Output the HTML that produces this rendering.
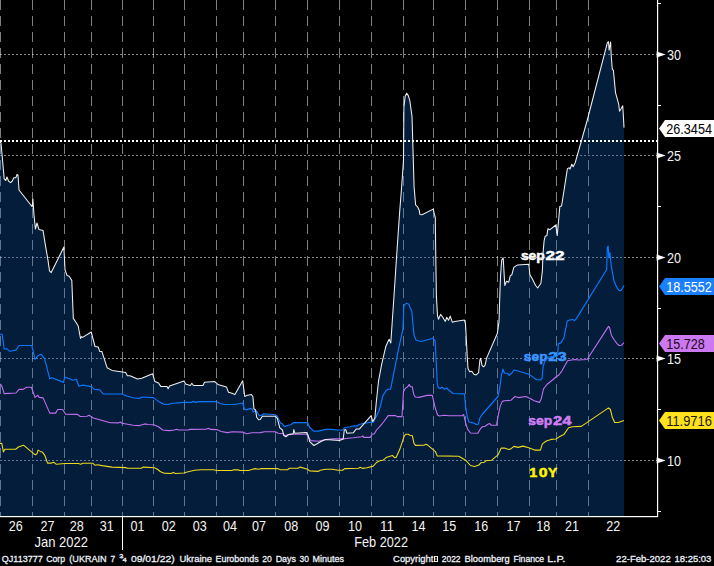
<!DOCTYPE html><html><head><meta charset="utf-8"><title>chart</title>
<style>html,body{margin:0;padding:0;background:#000;overflow:hidden}svg{display:block}text{font-family:"Liberation Sans",sans-serif}</style></head><body>
<svg width="714" height="566" viewBox="0 0 714 566">
<rect width="714" height="566" fill="#000"/>
<g stroke="#ffffff" stroke-opacity="0.5" stroke-width="1" shape-rendering="crispEdges">
<line x1="0.5" y1="0" x2="0.5" y2="516" stroke-dasharray="10 6"/>
<line x1="32.5" y1="0" x2="32.5" y2="516" stroke-dasharray="10 6"/>
<line x1="64.5" y1="0" x2="64.5" y2="516" stroke-dasharray="10 6"/>
<line x1="91.5" y1="0" x2="91.5" y2="516" stroke-dasharray="10 6"/>
<line x1="122.5" y1="0" x2="122.5" y2="516" stroke-dasharray="10 6"/>
<line x1="153.5" y1="0" x2="153.5" y2="516" stroke-dasharray="10 6"/>
<line x1="184.5" y1="0" x2="184.5" y2="516" stroke-dasharray="10 6"/>
<line x1="216.5" y1="0" x2="216.5" y2="516" stroke-dasharray="10 6"/>
<line x1="243.5" y1="0" x2="243.5" y2="516" stroke-dasharray="10 6"/>
<line x1="275.5" y1="0" x2="275.5" y2="516" stroke-dasharray="10 6"/>
<line x1="307.5" y1="0" x2="307.5" y2="516" stroke-dasharray="10 6"/>
<line x1="339.5" y1="0" x2="339.5" y2="516" stroke-dasharray="10 6"/>
<line x1="371.5" y1="0" x2="371.5" y2="516" stroke-dasharray="10 6"/>
<line x1="403.5" y1="0" x2="403.5" y2="516" stroke-dasharray="10 6"/>
<line x1="433.5" y1="0" x2="433.5" y2="516" stroke-dasharray="10 6"/>
<line x1="465.5" y1="0" x2="465.5" y2="516" stroke-dasharray="10 6"/>
<line x1="497.5" y1="0" x2="497.5" y2="516" stroke-dasharray="10 6"/>
<line x1="529.5" y1="0" x2="529.5" y2="516" stroke-dasharray="10 6"/>
<line x1="556.5" y1="0" x2="556.5" y2="516" stroke-dasharray="10 6"/>
<line x1="588.5" y1="0" x2="588.5" y2="516" stroke-dasharray="10 6"/>
</g>
<g stroke="#ffffff" stroke-opacity="0.52" stroke-width="1" shape-rendering="crispEdges">
<line x1="0" y1="54.5" x2="657" y2="54.5" stroke-dasharray="2 2"/>
<line x1="0" y1="155.5" x2="657" y2="155.5" stroke-dasharray="2 2"/>
<line x1="0" y1="257.5" x2="657" y2="257.5" stroke-dasharray="2 2"/>
<line x1="0" y1="358.5" x2="657" y2="358.5" stroke-dasharray="2 2"/>
<line x1="0" y1="460.5" x2="657" y2="460.5" stroke-dasharray="2 2"/>
</g>
<g opacity="0.3">
<polygon fill="#0d61c1" points="0,516 0,141.5 1,143 4.2,178.8 5.7,180.5 7,177 8.5,181 10.6,182.6 12.3,181 13.8,177.7 15.9,177.7 17,174.5 18,175 19,190 32.2,206.8 32.9,199 34,215 35.4,229 37,223 39,229.6 43,230.4 45.8,247.6 48,260.3 49.5,270.9 51.2,272.6 63.9,247.1 65,269.8 67.1,275.6 69.2,276.2 71.8,280.4 73.3,318.4 75.6,321.8 78.2,326 80.5,338.5 81.6,336.6 82.7,337.4 91.2,332 95,346.5 98.2,347 99.7,351.4 101.8,351.4 107.1,367.7 112,370.4 122.6,372 125.7,372.6 127.4,375.7 130,375.7 137.4,378.9 141.7,378.3 152.6,373.7 154.8,381.5 158.6,383 160.7,386.4 167,386.6 168.1,388.8 169.6,385.9 184,380.9 185.6,384.1 190.3,385.5 191.8,383.3 193.5,385.5 203,385.5 204.5,382.3 214.7,381.6 217.9,384.4 226.4,386.9 228.5,392.2 232.7,393.5 234.9,394.6 242.7,380.8 244.8,396.5 246.5,395.6 251.4,394.6 252.9,396.5 253.9,408.8 255.6,409.9 256.7,417.3 258.6,419.8 260.3,419.4 262.4,416.2 275.2,416.2 277.3,418.3 279.8,427.9 282.4,430 283.9,435.6 286,436.8 288.3,434.5 293.2,433.8 293.8,429.6 294.8,433.2 306.5,432.6 308.2,435.3 309.7,441.7 313.9,445.5 317.1,443.8 321.4,441.2 325.6,439.5 339.4,440.6 343.2,438.9 344.3,430 345.8,429.6 346.8,433.2 353.2,432.8 356.4,428.9 359.5,428.9 371.2,415.6 372.7,421.5 374.8,418.3 376.3,402 378.5,381.2 381.7,364.2 385.9,346.2 389.1,339.2 390.8,343 391.8,328.2 394.4,290 396.5,257.9 399.7,211.2 401.4,190 403.5,160.6 403.9,107.6 405.2,95.9 406.7,93.2 408.4,95.9 409.9,101.2 410.9,108.6 412,116.1 413,150 414.1,187 415.6,204.8 417.7,207 419.2,210.2 419.9,214.4 422,214.8 433.2,209.1 434.7,215.5 435.3,217.6 435.8,257.9 436.4,296.4 437.5,315.5 438.5,319.3 440.6,314.4 442.8,317.2 445.3,321.4 446.8,317.2 448.5,320.3 450.2,316.1 452.3,322.2 454.9,321.4 464.4,320.1 465.5,323.9 467.2,355.8 468,368.5 469.7,371.7 471.8,371.2 473.9,374.2 476.1,374.9 478.6,372.7 479.9,360 480.7,358.3 482,365.3 483.5,366.8 485,365.3 486.7,357.9 497.3,333.5 499,321.8 500,290 500.6,274.8 501.7,260 503.2,257.9 504.8,285.5 506.5,281.2 508.7,282.3 510.2,275.9 511.8,274.8 513.8,267.4 517.6,264.9 528.8,264.2 529.9,274.8 532.4,279.1 535.6,285.5 537.7,288 540.9,283.3 542.4,270.6 543,253.6 544.1,240.9 545.2,236.2 546.9,235.6 547.9,228.8 550,229.7 555.8,225 557.2,235.6 558.5,221.8 559.8,206.6 561.6,206 567.4,168.6 569.2,167.7 570,169.1 571.8,164.2 573.2,166.8 575.3,162.4 587.3,120 607.4,42.7 608.5,41.7 609.1,50.2 610.6,42.1 611.2,55.5 612.3,69.2 613.4,70.3 615.5,92.6 618.7,104.2 619.5,111.2 621.2,108.5 622.7,105.7 623.3,114.9 624,127.6 624,516"/>
<polygon fill="#0d61c1" points="0,516 0,334.2 2.1,334.2 4.2,349 6.8,348.7 9.5,351.2 15.9,350.1 19.1,345.5 31.8,345.5 35,359.3 38.2,355.5 41.4,354.4 44.5,358.6 49.8,378.8 52,377.7 63.6,382.4 64.7,377 73.2,380.3 76.4,379.2 78.9,386.2 82.7,385.1 91.2,386.6 94.4,389.4 99.7,389.8 103.3,394 122,394 127.3,396.2 134.2,398 139.5,398.4 142.7,397 153.3,397.6 158.5,401.4 160.6,402.4 163.2,404.1 168,404.5 171.2,403.5 183.9,402.4 191.4,402.4 193,401.4 195.6,402.4 198.8,401.6 215.8,401.6 220,403.5 224.2,404.5 234.9,404.5 242.7,403 244.4,409.2 246.5,409.9 250.8,408.4 252.2,409.2 253.3,412 255,410.9 256.7,411.3 259.2,415.6 261.4,415.2 263.5,413.7 275.2,414.7 277.3,416.2 280.5,423 282.1,423.6 284.7,426.6 287.9,425.3 290.6,424.7 293.8,422.6 307.6,422.6 309.7,427.5 313.9,431.1 318.2,431.1 325.6,429.4 332,429.4 337.3,430 342.6,430 344.7,427.5 350,426.8 354.2,425.8 357.4,425.8 359.5,424.3 364.8,423.2 371.2,422.2 373.3,422.2 378.6,412 380.8,404.5 382.7,396.1 385.9,390.8 388,389.3 390.6,389.1 397.6,353.6 402.9,329.2 403.9,305.9 406.5,303.2 408.8,304.2 410.3,308 411.8,311.2 413.1,326.1 414.1,335.6 416.2,340.3 420.9,341.5 433.2,338.2 435.1,340.9 436.2,362.1 437.2,383.3 438.3,387.6 440,388.6 442.1,387.2 444.7,389.3 446.8,388 449.5,390.8 453.2,393.5 464.4,393.9 465.8,408.2 467.3,416.7 469,422 473.6,423 476.2,424.5 478.3,424.1 480,417.7 482.1,414.5 498,396.5 499.8,387.6 501.5,374.9 503,369.1 504.4,373.2 507.6,373.2 509.3,375.3 511.8,373.2 514,370 518.2,371 528.8,374.2 532,376.4 536.2,379.5 540.5,380 542,378.5 543.2,366 545,360.8 548,357.2 552,356.6 557.6,356 558.3,343.9 560.8,342.9 563.8,338.1 567.3,321 569.6,320 572.5,319.6 574.5,320.6 576.4,318.6 606.7,269.5 607.3,247.3 608.2,246.2 608.8,257.9 609.9,252.6 611.3,266.4 614.1,281.2 617.3,288.6 619.8,290.8 621.5,290.1 624,285.5 624,516"/>
</g>
<line x1="0" y1="141" x2="657" y2="141" stroke="#fff" stroke-width="2" stroke-dasharray="2 2" shape-rendering="crispEdges"/>
<g font-size="13.2" font-weight="bold" fill="#ffffff" stroke="#ffffff" stroke-width="0.5" stroke-linejoin="round">
<text x="520.9" y="259.8" textLength="23.9" lengthAdjust="spacingAndGlyphs">sep</text>
<text x="545.5" y="259.8" textLength="19.1" lengthAdjust="spacingAndGlyphs">22</text>
</g>
<g font-size="13.2" font-weight="bold" fill="#3c96ff" stroke="#3c96ff" stroke-width="0.5" stroke-linejoin="round">
<text x="523.8" y="360.8" textLength="23.8" lengthAdjust="spacingAndGlyphs">sep</text>
<text x="548.3" y="360.8" textLength="18.4" lengthAdjust="spacingAndGlyphs">23</text>
</g>
<g font-size="13.2" font-weight="bold" fill="#d27df5" stroke="#d27df5" stroke-width="0.5" stroke-linejoin="round">
<text x="528.2" y="424.9" textLength="24.0" lengthAdjust="spacingAndGlyphs">sep</text>
<text x="552.9" y="424.9" textLength="18.5" lengthAdjust="spacingAndGlyphs">24</text>
</g>
<g font-size="13.2" font-weight="bold" fill="#fff400" stroke="#fff400" stroke-width="0.5" stroke-linejoin="round">
<text x="529.2" y="476.9" textLength="8" lengthAdjust="spacingAndGlyphs">1</text>
<text x="538.7" y="476.9" textLength="8.8" lengthAdjust="spacingAndGlyphs">0</text>
<text x="548" y="476.9" textLength="9.2" lengthAdjust="spacingAndGlyphs">Y</text>
</g>
<polyline fill="none" stroke="#ecd722" stroke-width="1.1" stroke-linejoin="round" points="0,443.4 1.8,443.4 3.4,451.9 4.9,449.2 15.7,449.2 18.4,447 23.5,445.2 33.6,453.7 35.4,454.8 37,453.7 38.1,450.1 40.3,451.4 42.6,452.3 44.8,455.3 47.5,463.1 51.5,463.1 53.8,462.2 56,464.2 65,463.5 78.4,463.5 80.7,464.2 82.9,463.3 93,463.3 95.2,465.3 97.5,464.7 102,465.6 112,467.1 125.5,467.6 127.7,468.2 141.2,468.2 143.4,467.1 154.4,467.7 157.4,469.2 160.6,471.8 163.8,473.1 171.2,473.5 173.3,472.4 175.5,473.5 183.9,473 187.1,472 194.5,470.3 200.9,469.7 213.6,469.7 216.8,470.5 231.7,470.5 233.8,469.7 238,469.9 240.2,470.5 248.6,470.5 251.8,469.5 255,468.6 258.2,469.2 261.4,468.6 277.3,468.6 280.5,469.7 287.4,469.7 289.5,468.2 298,468.2 300.2,467.1 307.6,469.2 309.7,470.9 318.2,471.4 320.3,470.3 325.6,469.2 332,469.2 338.3,470.3 342.6,470.3 344.7,468.6 358.5,468.2 360.2,467.3 362.7,468.4 367,467.8 373.3,466.1 376.5,462.5 379.7,460.8 382.9,460.3 386.1,457.6 389.2,456.5 392.4,455.5 394.6,457.6 396.2,457.2 399.9,449.1 404.1,436.4 405.6,434.2 408.3,434.2 409.8,435.3 412.4,435.8 414,443.4 415.5,445.4 423.8,445.3 425.9,444.2 428,445.3 435.5,451.7 437.2,455.9 458.8,456.3 465.6,460.2 470.5,465.5 474.7,466.5 478.9,465 481.1,462.7 484.2,462.3 485.9,460.8 491.7,460.2 498,454.9 501.2,448.1 504.4,448.1 508.6,449.5 510.8,448.9 513.9,446.4 518.2,447.4 523,446.1 528.8,447.8 534.6,450.1 540.4,450.1 542.4,443.9 546.3,441 551.1,439.4 556,439 558.9,437.1 563.8,434.6 568.6,427.8 572.5,426.8 581.3,426.4 608.5,407.9 610.4,409.5 612.4,417.6 614.7,422.5 618.2,422.5 624,420.6"/>
<polyline fill="none" stroke="#c070f0" stroke-width="1.1" stroke-linejoin="round" points="0,384 1.7,385.6 4.2,393.6 15.9,393 19.1,389.4 23.3,389.4 26.5,387.3 31.4,387.3 35,397.4 37.8,395.3 39.2,397.4 43.1,397.9 49.8,413.1 55.6,413.1 57.7,409.5 62.6,409.5 65.7,414.2 77.4,414.4 80.2,416.5 87,416.3 89.1,415.3 93.3,418 110.3,422.7 118.8,422.9 120.3,422 122,423.3 133.2,425.2 139.5,425.6 144.8,423.9 148,424.5 153.8,424.7 158.5,426.8 162.7,430 169.1,430.6 174.4,430 176.5,429.2 178.6,430 188.2,430 190.3,429.4 206.2,429.2 208.3,428.3 210.5,429.4 216.8,429.6 221.1,431.5 227.4,432.6 232.7,431.7 242.7,432.1 246.5,433.8 251.8,432.8 260.3,432.6 264.5,431.7 275.2,431.7 278.3,433.2 283.2,433.6 284.5,435.8 287.9,434.9 292.7,434.2 306.5,434.2 308.6,437.4 310.8,440.6 318.2,441.2 325.6,439.5 333,438.9 343.6,438.9 345.8,438.5 353.2,437.8 361.7,436.8 362.7,435.9 363.8,437.4 370.2,437.4 372.3,434.2 374.4,433.8 376.5,430 380.8,425.3 383.9,421.5 388.2,415.6 395.6,415.6 397.1,416.6 402,416.6 403.5,391.8 405.3,388.4 407.9,386.5 409.3,384.4 410.4,386.7 412.2,386.7 413.7,394.2 415.2,397 419,397.4 427.2,395.4 432.3,395.4 435,407.1 437.6,415 439.3,416 443.9,415.2 449.2,415.8 462,415.8 463.7,414.5 465.6,423 467.7,429.4 470.5,433 477.9,433.2 480,429.4 482.1,426.9 485.3,426.2 487.4,424.5 489.5,423.5 491.2,425.2 496.5,425.2 498,416.7 500.2,406.1 502.3,401.4 504.4,400.8 510.8,400.3 515,396.5 518.2,397.6 525.6,396.5 529.8,398.2 534.1,400.8 539.4,402.4 541.2,399 543.5,388.8 546.9,384.5 553.1,379.5 556,377 558.9,375 561.8,371.1 567.6,360.8 571.5,360 575.4,359.5 578.3,360 587.1,359.5 608.5,326.4 609.5,327.4 611.4,335.2 614.3,340 617.2,343.9 619.2,345.5 621.5,345.3 624,342.7"/>
<polyline fill="none" stroke="#0a78ff" stroke-width="1.15" stroke-linejoin="round" points="0,334.2 2.1,334.2 4.2,349 6.8,348.7 9.5,351.2 15.9,350.1 19.1,345.5 31.8,345.5 35,359.3 38.2,355.5 41.4,354.4 44.5,358.6 49.8,378.8 52,377.7 63.6,382.4 64.7,377 73.2,380.3 76.4,379.2 78.9,386.2 82.7,385.1 91.2,386.6 94.4,389.4 99.7,389.8 103.3,394 122,394 127.3,396.2 134.2,398 139.5,398.4 142.7,397 153.3,397.6 158.5,401.4 160.6,402.4 163.2,404.1 168,404.5 171.2,403.5 183.9,402.4 191.4,402.4 193,401.4 195.6,402.4 198.8,401.6 215.8,401.6 220,403.5 224.2,404.5 234.9,404.5 242.7,403 244.4,409.2 246.5,409.9 250.8,408.4 252.2,409.2 253.3,412 255,410.9 256.7,411.3 259.2,415.6 261.4,415.2 263.5,413.7 275.2,414.7 277.3,416.2 280.5,423 282.1,423.6 284.7,426.6 287.9,425.3 290.6,424.7 293.8,422.6 307.6,422.6 309.7,427.5 313.9,431.1 318.2,431.1 325.6,429.4 332,429.4 337.3,430 342.6,430 344.7,427.5 350,426.8 354.2,425.8 357.4,425.8 359.5,424.3 364.8,423.2 371.2,422.2 373.3,422.2 378.6,412 380.8,404.5 382.7,396.1 385.9,390.8 388,389.3 390.6,389.1 397.6,353.6 402.9,329.2 403.9,305.9 406.5,303.2 408.8,304.2 410.3,308 411.8,311.2 413.1,326.1 414.1,335.6 416.2,340.3 420.9,341.5 433.2,338.2 435.1,340.9 436.2,362.1 437.2,383.3 438.3,387.6 440,388.6 442.1,387.2 444.7,389.3 446.8,388 449.5,390.8 453.2,393.5 464.4,393.9 465.8,408.2 467.3,416.7 469,422 473.6,423 476.2,424.5 478.3,424.1 480,417.7 482.1,414.5 498,396.5 499.8,387.6 501.5,374.9 503,369.1 504.4,373.2 507.6,373.2 509.3,375.3 511.8,373.2 514,370 518.2,371 528.8,374.2 532,376.4 536.2,379.5 540.5,380 542,378.5 543.2,366 545,360.8 548,357.2 552,356.6 557.6,356 558.3,343.9 560.8,342.9 563.8,338.1 567.3,321 569.6,320 572.5,319.6 574.5,320.6 576.4,318.6 606.7,269.5 607.3,247.3 608.2,246.2 608.8,257.9 609.9,252.6 611.3,266.4 614.1,281.2 617.3,288.6 619.8,290.8 621.5,290.1 624,285.5"/>
<polyline fill="none" stroke="#f0f0f0" stroke-width="1.05" stroke-linejoin="round" points="0,141.5 1,143 4.2,178.8 5.7,180.5 7,177 8.5,181 10.6,182.6 12.3,181 13.8,177.7 15.9,177.7 17,174.5 18,175 19,190 32.2,206.8 32.9,199 34,215 35.4,229 37,223 39,229.6 43,230.4 45.8,247.6 48,260.3 49.5,270.9 51.2,272.6 63.9,247.1 65,269.8 67.1,275.6 69.2,276.2 71.8,280.4 73.3,318.4 75.6,321.8 78.2,326 80.5,338.5 81.6,336.6 82.7,337.4 91.2,332 95,346.5 98.2,347 99.7,351.4 101.8,351.4 107.1,367.7 112,370.4 122.6,372 125.7,372.6 127.4,375.7 130,375.7 137.4,378.9 141.7,378.3 152.6,373.7 154.8,381.5 158.6,383 160.7,386.4 167,386.6 168.1,388.8 169.6,385.9 184,380.9 185.6,384.1 190.3,385.5 191.8,383.3 193.5,385.5 203,385.5 204.5,382.3 214.7,381.6 217.9,384.4 226.4,386.9 228.5,392.2 232.7,393.5 234.9,394.6 242.7,380.8 244.8,396.5 246.5,395.6 251.4,394.6 252.9,396.5 253.9,408.8 255.6,409.9 256.7,417.3 258.6,419.8 260.3,419.4 262.4,416.2 275.2,416.2 277.3,418.3 279.8,427.9 282.4,430 283.9,435.6 286,436.8 288.3,434.5 293.2,433.8 293.8,429.6 294.8,433.2 306.5,432.6 308.2,435.3 309.7,441.7 313.9,445.5 317.1,443.8 321.4,441.2 325.6,439.5 339.4,440.6 343.2,438.9 344.3,430 345.8,429.6 346.8,433.2 353.2,432.8 356.4,428.9 359.5,428.9 371.2,415.6 372.7,421.5 374.8,418.3 376.3,402 378.5,381.2 381.7,364.2 385.9,346.2 389.1,339.2 390.8,343 391.8,328.2 394.4,290 396.5,257.9 399.7,211.2 401.4,190 403.5,160.6 403.9,107.6 405.2,95.9 406.7,93.2 408.4,95.9 409.9,101.2 410.9,108.6 412,116.1 413,150 414.1,187 415.6,204.8 417.7,207 419.2,210.2 419.9,214.4 422,214.8 433.2,209.1 434.7,215.5 435.3,217.6 435.8,257.9 436.4,296.4 437.5,315.5 438.5,319.3 440.6,314.4 442.8,317.2 445.3,321.4 446.8,317.2 448.5,320.3 450.2,316.1 452.3,322.2 454.9,321.4 464.4,320.1 465.5,323.9 467.2,355.8 468,368.5 469.7,371.7 471.8,371.2 473.9,374.2 476.1,374.9 478.6,372.7 479.9,360 480.7,358.3 482,365.3 483.5,366.8 485,365.3 486.7,357.9 497.3,333.5 499,321.8 500,290 500.6,274.8 501.7,260 503.2,257.9 504.8,285.5 506.5,281.2 508.7,282.3 510.2,275.9 511.8,274.8 513.8,267.4 517.6,264.9 528.8,264.2 529.9,274.8 532.4,279.1 535.6,285.5 537.7,288 540.9,283.3 542.4,270.6 543,253.6 544.1,240.9 545.2,236.2 546.9,235.6 547.9,228.8 550,229.7 555.8,225 557.2,235.6 558.5,221.8 559.8,206.6 561.6,206 567.4,168.6 569.2,167.7 570,169.1 571.8,164.2 573.2,166.8 575.3,162.4 587.3,120 607.4,42.7 608.5,41.7 609.1,50.2 610.6,42.1 611.2,55.5 612.3,69.2 613.4,70.3 615.5,92.6 618.7,104.2 619.5,111.2 621.2,108.5 622.7,105.7 623.3,114.9 624,127.6"/>
<g fill="#fff" shape-rendering="crispEdges">
<rect x="657" y="0" width="1" height="517"/>
<rect x="658" y="0" width="1" height="517" fill-opacity="0.18"/>
<rect x="0" y="516" width="658" height="1"/><rect x="0" y="517" width="658" height="1" fill-opacity="0.2"/>
<rect x="122" y="516" width="1.4" height="34"/>
<rect x="657" y="3" width="4" height="1"/>
<rect x="657" y="105" width="4" height="1"/>
<rect x="657" y="206" width="4" height="1"/>
<rect x="657" y="308" width="4" height="1"/>
<rect x="657" y="409" width="4" height="1"/>
<rect x="657" y="511" width="4" height="1"/>
</g>
<polygon fill="#fff" points="656.6,51.6 665.6,54.5 656.6,57.4"/>
<polygon fill="#fff" points="656.6,152.6 665.6,155.5 656.6,158.4"/>
<polygon fill="#fff" points="656.6,254.6 665.6,257.5 656.6,260.4"/>
<polygon fill="#fff" points="656.6,355.6 665.6,358.5 656.6,361.4"/>
<polygon fill="#fff" points="656.6,457.6 665.6,460.5 656.6,463.4"/>
<text x="667" y="60" font-size="15" fill="#f4f4f4" textLength="14" lengthAdjust="spacingAndGlyphs">30</text>
<text x="667" y="161" font-size="15" fill="#f4f4f4" textLength="14" lengthAdjust="spacingAndGlyphs">25</text>
<text x="667" y="263" font-size="15" fill="#f4f4f4" textLength="14" lengthAdjust="spacingAndGlyphs">20</text>
<text x="667" y="364" font-size="15" fill="#f4f4f4" textLength="14" lengthAdjust="spacingAndGlyphs">15</text>
<text x="667" y="466" font-size="15" fill="#f4f4f4" textLength="14" lengthAdjust="spacingAndGlyphs">10</text>
<polygon fill="#ffffff" points="659,128.5 665,120 714,120 714,137 665,137"/>
<text x="666.2" y="134.0" font-size="15" fill="#000000" textLength="45.8" lengthAdjust="spacingAndGlyphs">26.3454</text>
<polygon fill="#1a80ff" points="659,286.5 665,278 714,278 714,295 665,295"/>
<text x="666.2" y="292.0" font-size="15" fill="#ffffff" textLength="45.7" lengthAdjust="spacingAndGlyphs">18.5552</text>
<polygon fill="#cc78f0" points="659,343.5 665,335 714,335 714,352 665,352"/>
<text x="666.2" y="349.0" font-size="15" fill="#1a0820" textLength="38.5" lengthAdjust="spacingAndGlyphs">15.728</text>
<polygon fill="#ffe11e" points="659,420.5 665,412 714,412 714,429 665,429"/>
<text x="666.2" y="426.0" font-size="15" fill="#1a1a10" textLength="45.7" lengthAdjust="spacingAndGlyphs">11.9716</text>
<text x="15.8" y="531" font-size="15" fill="#f4f4f4" text-anchor="middle" textLength="14" lengthAdjust="spacingAndGlyphs">26</text>
<text x="47.6" y="531" font-size="15" fill="#f4f4f4" text-anchor="middle" textLength="14" lengthAdjust="spacingAndGlyphs">27</text>
<text x="76.7" y="531" font-size="15" fill="#f4f4f4" text-anchor="middle" textLength="14" lengthAdjust="spacingAndGlyphs">28</text>
<text x="106.7" y="531" font-size="15" fill="#f4f4f4" text-anchor="middle" textLength="14" lengthAdjust="spacingAndGlyphs">31</text>
<text x="137.5" y="531" font-size="15" fill="#f4f4f4" text-anchor="middle" textLength="14" lengthAdjust="spacingAndGlyphs">01</text>
<text x="168.8" y="531" font-size="15" fill="#f4f4f4" text-anchor="middle" textLength="14" lengthAdjust="spacingAndGlyphs">02</text>
<text x="199.8" y="531" font-size="15" fill="#f4f4f4" text-anchor="middle" textLength="14" lengthAdjust="spacingAndGlyphs">03</text>
<text x="230" y="531" font-size="15" fill="#f4f4f4" text-anchor="middle" textLength="14" lengthAdjust="spacingAndGlyphs">04</text>
<text x="259" y="531" font-size="15" fill="#f4f4f4" text-anchor="middle" textLength="14" lengthAdjust="spacingAndGlyphs">07</text>
<text x="291.3" y="531" font-size="15" fill="#f4f4f4" text-anchor="middle" textLength="14" lengthAdjust="spacingAndGlyphs">08</text>
<text x="322.5" y="531" font-size="15" fill="#f4f4f4" text-anchor="middle" textLength="14" lengthAdjust="spacingAndGlyphs">09</text>
<text x="355" y="531" font-size="15" fill="#f4f4f4" text-anchor="middle" textLength="14" lengthAdjust="spacingAndGlyphs">10</text>
<text x="387" y="531" font-size="15" fill="#f4f4f4" text-anchor="middle" textLength="14" lengthAdjust="spacingAndGlyphs">11</text>
<text x="418.6" y="531" font-size="15" fill="#f4f4f4" text-anchor="middle" textLength="14" lengthAdjust="spacingAndGlyphs">14</text>
<text x="449.2" y="531" font-size="15" fill="#f4f4f4" text-anchor="middle" textLength="14" lengthAdjust="spacingAndGlyphs">15</text>
<text x="481.3" y="531" font-size="15" fill="#f4f4f4" text-anchor="middle" textLength="14" lengthAdjust="spacingAndGlyphs">16</text>
<text x="513.5" y="531" font-size="15" fill="#f4f4f4" text-anchor="middle" textLength="14" lengthAdjust="spacingAndGlyphs">17</text>
<text x="543.3" y="531" font-size="15" fill="#f4f4f4" text-anchor="middle" textLength="14" lengthAdjust="spacingAndGlyphs">18</text>
<text x="572" y="531" font-size="15" fill="#f4f4f4" text-anchor="middle" textLength="14" lengthAdjust="spacingAndGlyphs">21</text>
<text x="613.2" y="531" font-size="15" fill="#f4f4f4" text-anchor="middle" textLength="14" lengthAdjust="spacingAndGlyphs">22</text>
<text x="34.5" y="547" font-size="15" fill="#f4f4f4" textLength="53.5" lengthAdjust="spacingAndGlyphs">Jan 2022</text>
<text x="354.2" y="547" font-size="15" fill="#f4f4f4" textLength="53.8" lengthAdjust="spacingAndGlyphs">Feb 2022</text>
<g font-size="9.9" fill="#eef2fa" stroke="#eef2fa" stroke-width="0.3">
<text x="1.8" y="562" textLength="40.9" lengthAdjust="spacingAndGlyphs">QJ113777</text>
<text x="46.2" y="562" textLength="18.9" lengthAdjust="spacingAndGlyphs">Corp</text>
<text x="69.3" y="562" textLength="37.4" lengthAdjust="spacingAndGlyphs">(UKRAIN</text>
<text x="110.4" y="562" textLength="4.6" lengthAdjust="spacingAndGlyphs">7</text>
<text x="130.9" y="562" textLength="43.9" lengthAdjust="spacingAndGlyphs">09/01/22)</text>
<text x="179.5" y="562" textLength="32.5" lengthAdjust="spacingAndGlyphs">Ukraine</text>
<text x="215.5" y="562" textLength="43.1" lengthAdjust="spacingAndGlyphs">Eurobonds</text>
<text x="262.3" y="562" textLength="9.5" lengthAdjust="spacingAndGlyphs">20</text>
<text x="275.7" y="562" textLength="20.3" lengthAdjust="spacingAndGlyphs">Days</text>
<text x="299.5" y="562" textLength="9.4" lengthAdjust="spacingAndGlyphs">30</text>
<text x="312.4" y="562" textLength="31.5" lengthAdjust="spacingAndGlyphs">Minutes</text>
<text x="393.1" y="562" textLength="40.2" lengthAdjust="spacingAndGlyphs">Copyright</text>
<text x="441.7" y="562" textLength="18.9" lengthAdjust="spacingAndGlyphs">2022</text>
<text x="464.6" y="562" textLength="45.0" lengthAdjust="spacingAndGlyphs">Bloomberg</text>
<text x="513.4" y="562" textLength="30.8" lengthAdjust="spacingAndGlyphs">Finance</text>
<text x="547.3" y="562" textLength="18.0" lengthAdjust="spacingAndGlyphs">L.P.</text>
<text x="616.1" y="562" textLength="54.6" lengthAdjust="spacingAndGlyphs">22-Feb-2022</text>
<text x="674.5" y="562" textLength="36.8" lengthAdjust="spacingAndGlyphs">18:25:03</text>
<text x="119.3" y="558" font-size="6" textLength="4" lengthAdjust="spacingAndGlyphs">3</text>
<text x="122.6" y="562.2" font-size="6" textLength="4.2" lengthAdjust="spacingAndGlyphs">4</text>
<rect x="434.5" y="556.5" width="3" height="5" fill="none" stroke-width="1"/>
<rect x="435.5" y="558" width="1" height="2" stroke="none" fill-opacity="0.7"/>
</g>
<line x1="121.6" y1="558.4" x2="123.6" y2="557.2" stroke="#e6ecf6" stroke-width="0.6"/>
</svg></body></html>
